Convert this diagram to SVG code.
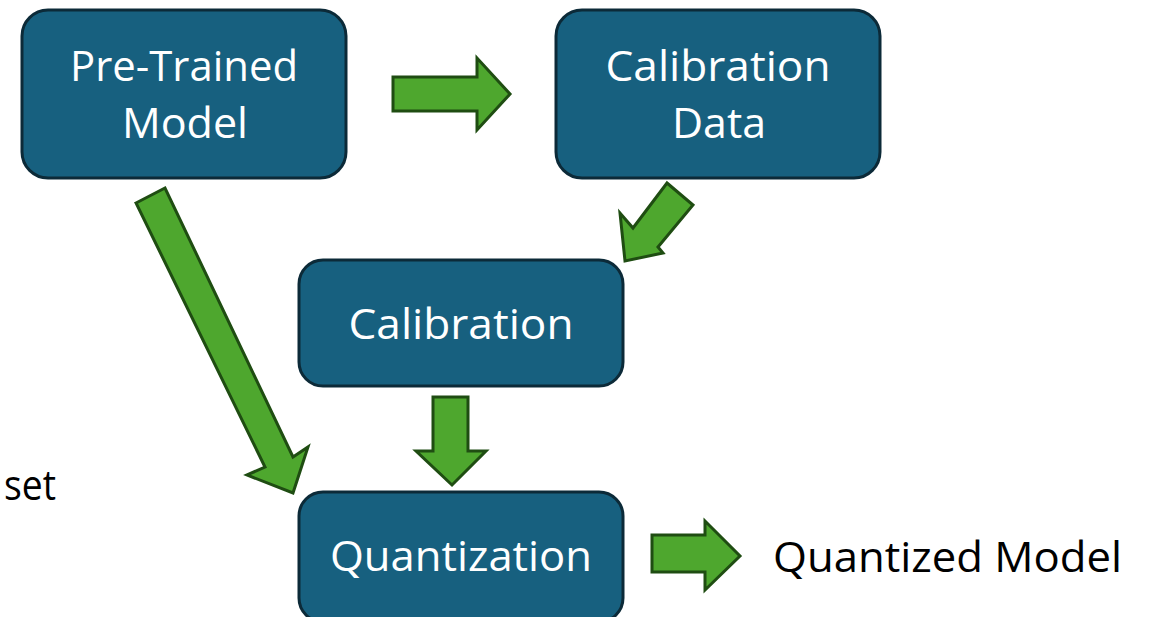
<svg xmlns="http://www.w3.org/2000/svg" width="1155" height="617" viewBox="0 0 1155 617">
  <style>
    .box { fill: #17607f; stroke: #0c2a38; stroke-width: 3; }
    .lbl { fill: #ffffff; font-family: "Open Sans", "Noto Sans", sans-serif; font-size: 42px; text-anchor: middle; }
    .plain { fill: #000000; font-family: "Open Sans", "Noto Sans", sans-serif; font-size: 42px; }
    .arrow { fill: #4ea72e; stroke: #1f4d12; stroke-width: 3; stroke-linejoin: miter; }
  </style>
  <rect width="1155" height="617" fill="#ffffff"/>

  <g id="pretrained">
    <rect class="box" x="22" y="10" width="324" height="168" rx="26"/>
    <text class="lbl" x="184" y="81" textLength="228" lengthAdjust="spacingAndGlyphs">Pre-Trained</text>
    <text class="lbl" x="185" y="138" textLength="126" lengthAdjust="spacingAndGlyphs">Model</text>
  </g>

  <g id="calibration-data">
    <rect class="box" x="556" y="10" width="324" height="168" rx="26"/>
    <text class="lbl" x="718" y="81" textLength="225" lengthAdjust="spacingAndGlyphs">Calibration</text>
    <text class="lbl" x="719" y="138" textLength="94" lengthAdjust="spacingAndGlyphs">Data</text>
  </g>

  <g id="calibration">
    <rect class="box" x="299" y="260" width="324" height="126" rx="24"/>
    <text class="lbl" x="461" y="339" textLength="225" lengthAdjust="spacingAndGlyphs">Calibration</text>
  </g>

  <g id="quantization">
    <rect class="box" x="299" y="492" width="324" height="130" rx="24"/>
    <text class="lbl" x="461" y="571" textLength="262" lengthAdjust="spacingAndGlyphs">Quantization</text>
  </g>

  <g id="quantized-model">
    <text class="plain" x="773" y="572" textLength="349" lengthAdjust="spacingAndGlyphs">Quantized Model</text>
  </g>

  <g id="dataset">
    <text class="plain" x="4" y="500" textLength="52" lengthAdjust="spacingAndGlyphs">set</text>
  </g>

  <g id="connectors">
    <!-- Pre-Trained Model -> Calibration Data -->
    <polygon class="arrow" points="393,77 477,77 477,58 510,94 477,130 477,111 393,111"/>
    <!-- Calibration Data -> Calibration -->
    <polygon class="arrow" points="667,183 693,205 658,247 663,253 625,261 620,213 633,228"/>
    <!-- Pre-Trained Model -> Quantization -->
    <polygon class="arrow" points="136,203 165,188 293,457 308,447 293,493 247,475 265,467"/>
    <!-- Calibration -> Quantization -->
    <polygon class="arrow" points="433,397 468,397 468,451 486,451 452,485 416,451 433,451"/>
    <!-- Quantization -> Quantized Model -->
    <polygon class="arrow" points="652,535 705,535 705,521 740,556 705,590 705,572 652,572"/>
  </g>
</svg>
